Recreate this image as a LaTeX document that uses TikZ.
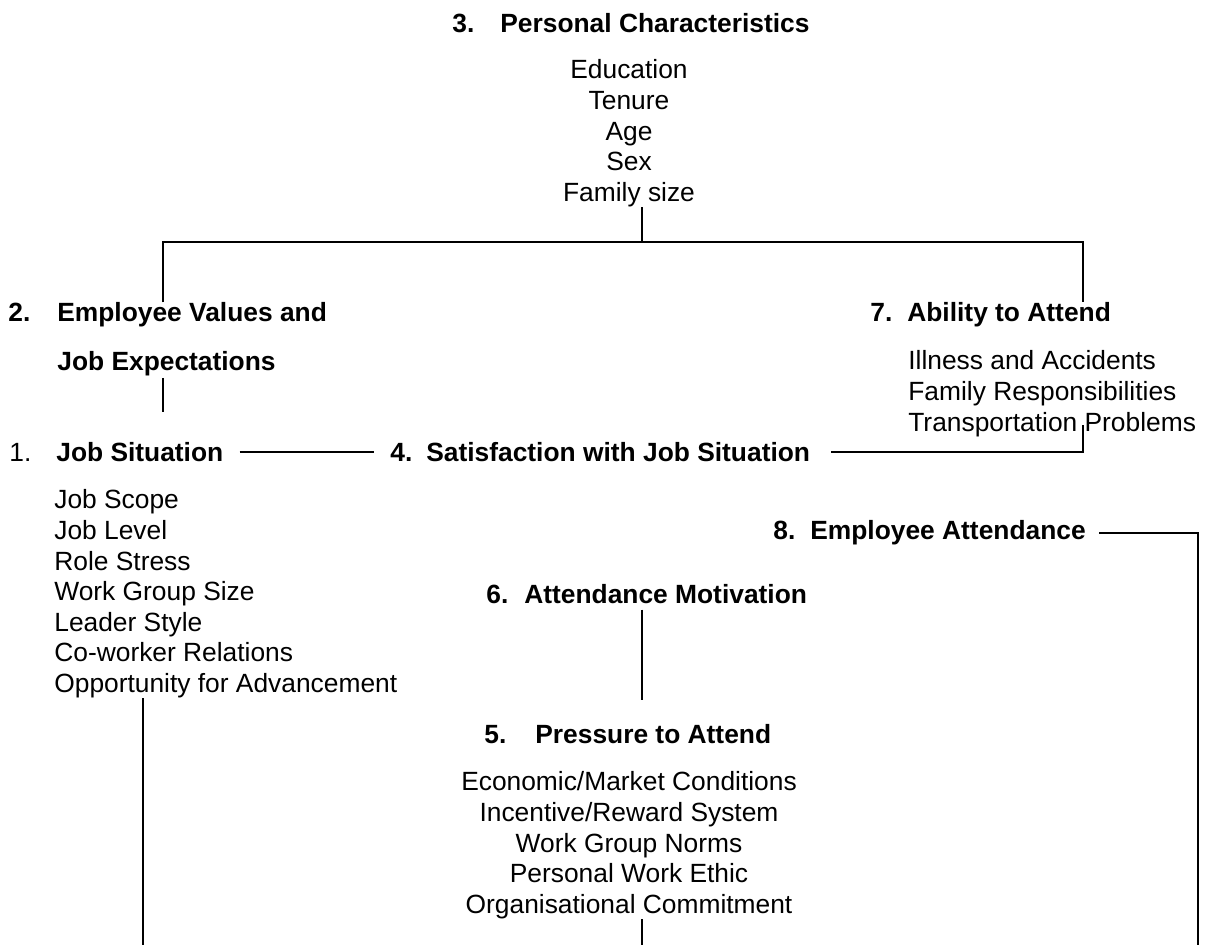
\documentclass[tikz,border=0pt]{standalone}
\usepackage{fontspec}
\setmainfont{Liberation Sans}
\usepackage{tikz}
\newcommand{\diafont}{\fontsize{15}{17.4}\selectfont}
\tikzset{
  num/.style={font=\diafont\bfseries,inner sep=0pt,anchor=base west},
  head/.style={font=\diafont\bfseries,inner sep=0pt,anchor=base west},
  items/.style={font=\diafont,inner sep=0pt,align=center,anchor=north},
  itemsl/.style={font=\diafont,inner sep=0pt,align=left,anchor=north west},
  link/.style={line width=1.1pt}
}

\begin{document}
\begin{tikzpicture}
\useasboundingbox (0,0) rectangle (24.3,18.9);
\node[num] (n3) at (9.04,18.25) {3.};
\node[head] (pc) at (10.0,18.25) {Personal Characteristics};
\node[items] (pcl) at (12.58,17.71) {Education\\Tenure\\Age\\Sex\\Family size};
\node[num] (n2) at (0.16,12.47) {2.};
\node[head,align=left,anchor=north west] (ev) at (1.14,12.85) {Employee Values and\\[0.35cm]Job Expectations};
\node[num] (n7) at (17.4,12.47) {7.};
\node[head] (ab) at (18.14,12.47) {Ability to Attend};
\node[itemsl] (abl) at (18.16,11.89) {Illness and Accidents\\Family Responsibilities\\Transportation Problems};
\node[num,font=\diafont] (n1) at (0.18,9.67) {1.};
\node[head] (js) at (1.12,9.67) {Job Situation};
\node[num] (n4) at (7.8,9.67) {4.};
\node[head] (sat) at (8.52,9.67) {Satisfaction with Job Situation};
\node[itemsl] (jsl) at (1.08,9.11) {Job Scope\\Job Level\\Role Stress\\Work Group Size\\Leader Style\\Co-worker Relations\\Opportunity for Advancement};
\node[num] (n8) at (15.46,8.11) {8.};
\node[head] (att) at (16.2,8.11) {Employee Attendance};
\node[num] (n6) at (9.72,6.83) {6.};
\node[head] (mot) at (10.48,6.83) {Attendance Motivation};
\node[num] (n5) at (9.68,4.03) {5.};
\node[head] (pr) at (10.7,4.03) {Pressure to Attend};
\node[items] (prl) at (12.58,3.47) {Economic/Market Conditions\\Incentive/Reward System\\Work Group Norms\\Personal Work Ethic\\Organisational Commitment};
\coordinate (hubc) at (12.84,14.06);
\coordinate (hubl) at (3.26,14.06);
\coordinate (hubr) at (21.66,14.06);
\coordinate (abfoot) at (21.66,10.4);
\coordinate (attfoot) at (23.96,0);
\coordinate (axis) at (12.84,0);
\coordinate (jsfoot) at (2.86,0);
\draw[link] (pcl.south -| hubc) -- (hubc);
\draw[link] (ev.north -| hubl) -- (hubl) -- (hubr) -- (ab.north -| hubr);
\draw[link,shorten <=0.04cm,shorten >=0.6cm] (ev.south -| hubl) -- (js.north -| hubl);
\draw[link,shorten <=0.32cm,shorten >=0.32cm] (js.east) -- (js.east -| n4.west);
\draw[link,shorten <=0.42cm] (sat.east) -| (abfoot);
\draw[link,shorten <=0.26cm] (att.east) -| (attfoot);
\draw[link,shorten <=0.11cm,shorten >=0.48cm] (mot.south -| axis) -- (pr.north -| axis);
\draw[link] (prl.south -| axis) -- (axis);
\draw[link] (jsl.south -| jsfoot) -- (jsfoot);
\end{tikzpicture}
\end{document}
